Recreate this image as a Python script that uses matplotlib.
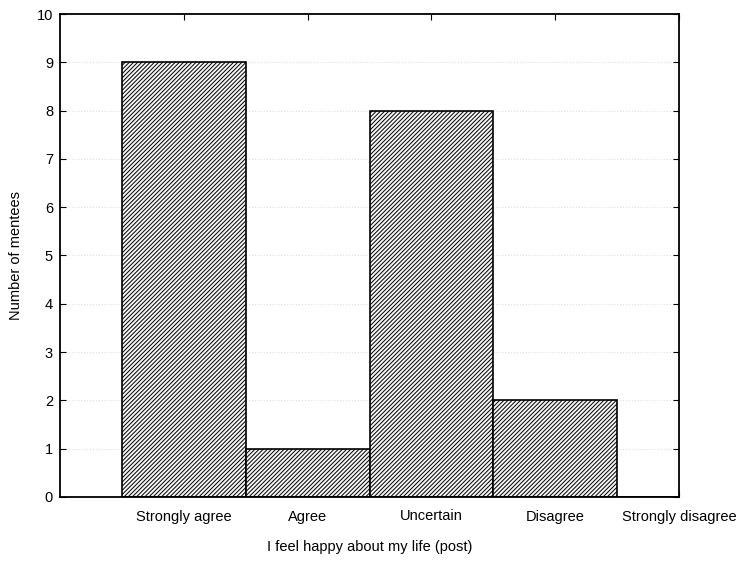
import matplotlib.pyplot as plt

categories = ["Strongly agree", "Agree", "Uncertain", "Disagree", "Strongly disagree"]
counts = [9, 1, 8, 2, 0]

plt.rcParams['font.family'] = ['Liberation Sans', 'DejaVu Sans']
plt.rcParams['hatch.linewidth'] = 0.7

fig = plt.figure(figsize=(7.43, 5.64), dpi=100)
ax = fig.add_axes([60 / 743, 1 - 497 / 564, (679 - 60) / 743, (497 - 14) / 564])

pos = list(range(len(categories)))
ax.bar(pos, counts, width=1.0, color='#f4f4f4', edgecolor='black', hatch='////////', linewidth=1.2)

ax.set_xlim(-1, 4)
ax.set_ylim(0, 10)
ax.set_yticks(range(0, 11))
ax.set_xticks(pos)
ax.set_xticklabels(categories)
ax.grid(axis='y', color='#e0e0e0', linestyle=':', linewidth=0.8)
ax.set_axisbelow(True)

ax.tick_params(direction='in', top=True, right=True, labelsize=10.5, length=4, pad=5)
ax.tick_params(axis='x', pad=9)
for s in ax.spines.values():
    s.set_linewidth(1.3)

ax.set_xlabel("I feel happy about my life (post)", fontsize=10.5, labelpad=12)
ax.set_ylabel("Number of mentees", fontsize=10.5, labelpad=10)

fig.savefig("out.png", dpi=100)
